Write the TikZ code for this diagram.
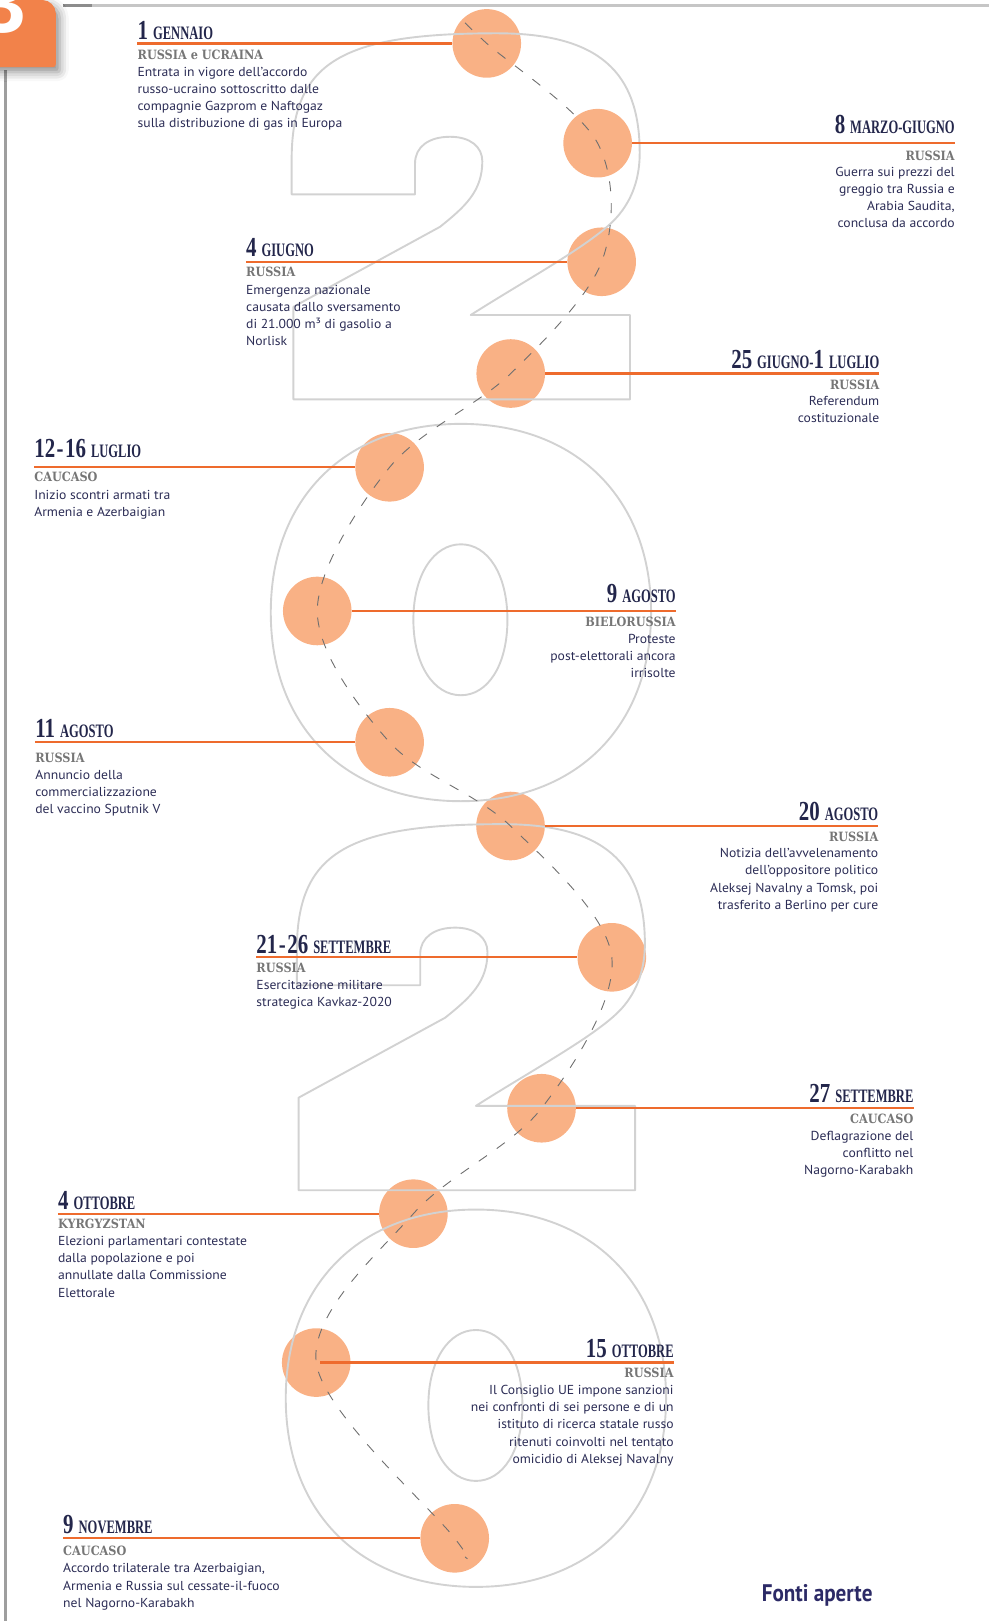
\documentclass[tikz,border=0pt]{standalone}
\usepackage{fontspec}
\setmainfont{PT Sans}[FakeStretch=1.05]
\newfontfamily\titlefont[FakeStretch=0.66]{Liberation Serif}
\newfontfamily\numfont[FakeStretch=0.76]{Liberation Serif}
\newfontfamily\regionfont[FakeStretch=0.88]{DejaVu Serif}
\newfontfamily\sourcefont[FakeStretch=0.88]{PT Sans}
\newfontfamily\tabfont{Liberation Sans}
\usetikzlibrary{shadows.blur}

\definecolor{tabor}{HTML}{F2824A}
\definecolor{dotfill}{HTML}{F9B185}
\definecolor{tickor}{HTML}{EE6B2D}
\definecolor{digitgray}{HTML}{D2D2D2}
\definecolor{trailgray}{HTML}{6F6F6F}
\definecolor{navy}{HTML}{23264B}
\definecolor{bodynavy}{HTML}{2B2C55}
\definecolor{regiongray}{HTML}{767676}
\definecolor{framegray}{HTML}{C6C6C6}
\definecolor{framedark}{HTML}{8C8C8C}
\definecolor{srcnavy}{HTML}{2C2A66}

% day numbers and months of the dates
\newcommand\dnum[1]{{\numfont\bfseries\fontsize{27.5}{28}\selectfont#1}}
\newcommand\dmon[1]{{\fontsize{19}{20}\selectfont#1}}
\newcommand\dgap{\hspace{5pt}}
\newcommand\drange[2]{\dnum{#1}\hspace{1.5pt}\dnum{-}\hspace{1.5pt}\dnum{#2}}
\newcommand\lines[1]{\begin{tabular}[t]{@{}l@{}}#1\end{tabular}}
\newcommand\rlines[1]{\begin{tabular}[t]{@{}r@{}}#1\end{tabular}}

\tikzset{
  digit/.style={draw=digitgray, line width=1.9pt, line join=round},
  disc/.style={circle, fill=dotfill, minimum size=68.6pt, inner sep=0pt},
  trail/.style={draw=trailgray, line width=0.9pt, dash pattern=on 10pt off 12pt},
  leader/.style={draw=tickor, line width=2.2pt},
  dateline/.style={inner sep=0pt, text=navy, font=\titlefont\bfseries},
  place/.style={inner sep=0pt, text=regiongray, font={\regionfont\bfseries\fontsize{12.8}{14}\selectfont}},
  story/.style={inner sep=0pt, text=bodynavy, font=\fontsize{13}{17.2}\selectfont},
  lft/.style={anchor=base west},
  rgt/.style={anchor=base east},
  numtwo/.pic={
    \draw[digit] (283.9,386.3) -- (609.6,386.3) -- (609.6,304.7) -- (455.5,304.7)
      .. controls (510,270) and (575,235) .. (597,210)
      .. controls (612,193) and (619,172) .. (619,148)
      .. controls (619,70) and (580,32.2) .. (481,32.2)
      .. controls (330,32.2) and (282.2,60) .. (282.2,155)
      -- (282.2,188) -- (401.6,188) -- (401.6,158)
      .. controls (401.6,142) and (415,132.3) .. (435.5,132.3)
      .. controls (455,132.3) and (466.7,142) .. (466.7,156)
      .. controls (466.7,185) and (450,200) .. (425.8,219.4)
      -- (283.9,296.8) -- cycle;
  },
  numzero/.pic={
    \draw[digit] (-184,0) .. controls (-184,-110) and (-112,-182.5) .. (0,-182.5)
      .. controls (112,-182.5) and (184,-110) .. (184,0)
      .. controls (184,110) and (112,182.5) .. (0,182.5)
      .. controls (-112,182.5) and (-184,110) .. (-184,0) -- cycle;
    \draw[digit] (-46,7) .. controls (-46,-37) and (-26,-66) .. (0,-66)
      .. controls (26,-66) and (45,-37) .. (45,7)
      .. controls (45,51) and (26,80) .. (0,80)
      .. controls (-26,80) and (-46,51) .. (-46,7) -- cycle;
  }
}

\begin{document}
\begin{tikzpicture}[x=1.03344pt, y=-1.03380pt]
\useasboundingbox (0,0) rectangle (957,1568);

% frame lines
\draw[framegray, line width=2.5pt] (61,5.3) -- (957,5.3);
\draw[framedark, line width=2.5pt] (61,5.3) -- (89,5.3);
\draw[framegray!80!black, line width=2.5pt] (5.3,68) -- (5.3,1568);

% chapter tab
\fill[tabor, blur shadow={shadow xshift=4pt, shadow yshift=-5pt, shadow blur radius=9pt, shadow opacity=45}]
  (-10,0) -- (41,0) .. controls (48,0) and (54,6) .. (54,13) -- (54,62)
  .. controls (54,64) and (53,65) .. (51,65) -- (-10,65) -- cycle;
\begin{scope}
  \clip (-10,0) -- (41,0) .. controls (48,0) and (54,6) .. (54,13) -- (54,62)
    .. controls (54,64) and (53,65) .. (51,65) -- (-10,65) -- cycle;
  \node[anchor=base west, inner sep=0pt, text=white, font={\tabfont\bfseries\fontsize{84}{84}\selectfont}] (tabnum) at (-20,31) {3};
\end{scope}

% event discs
\node[disc] (c1) at (471,42) {};
\node[disc] (c2) at (578.3,138.5) {};
\node[disc] (c3) at (582.2,253.2) {};
\node[disc] (c4) at (494.2,361.3) {};
\node[disc] (c5) at (377,452) {};
\node[disc] (c6) at (307,591) {};
\node[disc] (c7) at (377,718) {};
\node[disc] (c8) at (494,799) {};
\node[disc] (c9) at (592,926) {};
\node[disc] (c10) at (524,1072) {};
\node[disc] (c11) at (400,1174) {};
\node[disc] (c12) at (306,1318) {};
\node[disc] (c13) at (440,1488) {};

% outlined year 2020
\pic at (0,0) {numtwo};
\pic at (446,592.5) {numzero};
\pic at (5,765) {numtwo};
\pic at (460.5,1352.5) {numzero};

% dashed path through the discs
\coordinate (p0) at (450,22);
\coordinate (p14) at (450,1506);
\draw[trail] plot[smooth, tension=0.55] coordinates {(p0) (c1.center) (c2.center) (c3.center) (c4.center) (c5.center) (c6.center) (c7.center) (c8.center) (c9.center) (c10.center) (c11.center) (c12.center) (c13.center) (p14)};

% leader lines
\coordinate (l1) at (133,42);
\coordinate (l2) at (924,138.5);
\coordinate (l3) at (238,253.2);
\coordinate (l4) at (851,361.3);
\coordinate (l5) at (33,452);
\coordinate (l6) at (654,591);
\coordinate (l7) at (34,718);
\coordinate (l8) at (850,799);
\coordinate (l9) at (248,926);
\coordinate (l10) at (884,1072);
\coordinate (l11) at (56,1174);
\coordinate (l12) at (652,1318);
\coordinate (l13) at (61,1488);
\coordinate (l12s) at (310,1318);
\draw[leader] (l1) -- (l1 -| c1.west);
\draw[leader] (l2 -| c2.east) -- (l2);
\draw[leader] (l3) -- (l3 -| c3.west);
\draw[leader] (l4 -| c4.east) -- (l4);
\draw[leader] (l5) -- (l5 -| c5.west);
\draw[leader] (l6 -| c6.east) -- (l6);
\draw[leader] (l7) -- (l7 -| c7.west);
\draw[leader] (l8 -| c8.east) -- (l8);
\draw[leader] (l9) -- (l9 -| c9.west);
\draw[leader] (l10 -| c10.east) -- (l10);
\draw[leader] (l11) -- (l11 -| c11.west);
\draw[leader] (l12s) -- (l12);
\draw[leader] (l13) -- (l13 -| c13.west);

% 1
\node[dateline, lft] (t1) at (133,38) {\dnum{1}\dgap\dmon{GENNAIO}};
\node[place, lft] (s1) at (133,58) {RUSSIA e UCRAINA};
\node[story, lft] (b1) at (133,73.8) {\lines{Entrata in vigore dell’accordo\\russo-ucraino sottoscritto dalle\\compagnie Gazprom e Naftogaz\\sulla distribuzione di gas in Europa}};
% 2
\node[dateline, rgt] (t2) at (924,129) {\dnum{8}\dgap\dmon{MARZO-GIUGNO}};
\node[place, rgt] (s2) at (924,154.8) {RUSSIA};
\node[story, rgt] (b2) at (924,170.3) {\rlines{Guerra sui prezzi del\\greggio tra Russia e\\Arabia Saudita,\\conclusa da accordo}};
% 3
\node[dateline, lft] (t3) at (238,248.4) {\dnum{4}\dgap\dmon{GIUGNO}};
\node[place, lft] (s3) at (238,267.7) {RUSSIA};
\node[story, lft] (b3) at (238,284.5) {\lines{Emergenza nazionale\\causata dallo sversamento\\di 21.000 m³ di gasolio a\\Norlisk}};
% 4
\node[dateline, rgt] (t4) at (851,356.4) {\dnum{25}\dgap\dmon{GIUGNO-}\dnum{1}\dgap\dmon{LUGLIO}};
\node[place, rgt] (s4) at (851,376.4) {RUSSIA};
\node[story, rgt] (b4) at (851,392) {\rlines{Referendum\\costituzionale}};
% 5
\node[dateline, lft] (t5) at (33,442.5) {\drange{12}{16}\dgap\dmon{LUGLIO}};
\node[place, lft] (s5) at (33,466) {CAUCASO};
\node[story, lft] (b5) at (33,482.9) {\lines{Inizio scontri armati tra\\Armenia e Azerbaigian}};
% 6
\node[dateline, rgt] (t6) at (654,582.9) {\dnum{9}\dgap\dmon{AGOSTO}};
\node[place, rgt] (s6) at (654,605.8) {BIELORUSSIA};
\node[story, rgt] (b6) at (654,622.5) {\rlines{Proteste\\post-elettorali ancora\\irrisolte}};
% 7
\node[dateline, lft] (t7) at (34,713.5) {\dnum{11}\dgap\dmon{AGOSTO}};
\node[place, lft] (s7) at (34,737.7) {RUSSIA};
\node[story, lft] (b7) at (34,753.8) {\lines{Annuncio della\\commercializzazione\\del vaccino Sputnik V}};
% 8
\node[dateline, rgt] (t8) at (850,794.1) {\dnum{20}\dgap\dmon{AGOSTO}};
\node[place, rgt] (s8) at (850,813.5) {RUSSIA};
\node[story, rgt] (b8) at (850,829.6) {\rlines{Notizia dell’avvelenamento\\dell’oppositore politico\\Aleksej Navalny a Tomsk, poi\\trasferito a Berlino per cure}};
% 9
\node[dateline, lft] (t9) at (248,921.9) {\drange{21}{26}\dgap\dmon{SETTEMBRE}};
\node[place, lft] (s9) at (248,940.3) {RUSSIA};
\node[story, lft] (b9) at (248,957) {\lines{Esercitazione militare\\strategica Kavkaz-2020}};
% 10
\node[dateline, rgt] (t10) at (884,1066) {\dnum{27}\dgap\dmon{SETTEMBRE}};
\node[place, rgt] (s10) at (884,1086.5) {CAUCASO};
\node[story, rgt] (b10) at (884,1102.8) {\rlines{Deflagrazione del\\conflitto nel\\Nagorno-Karabakh}};
% 11
\node[dateline, lft] (t11) at (56,1170.2) {\dnum{4}\dgap\dmon{OTTOBRE}};
\node[place, lft] (s11) at (56,1188.6) {KYRGYZSTAN};
\node[story, lft] (b11) at (56,1204.7) {\lines{Elezioni parlamentari contestate\\dalla popolazione e poi\\annullate dalla Commissione\\Elettorale}};
% 12
\node[dateline, rgt] (t12) at (652,1313) {\dnum{15}\dgap\dmon{OTTOBRE}};
\node[place, rgt] (s12) at (652,1332.5) {RUSSIA};
\node[story, rgt] (b12) at (652,1348.8) {\rlines{Il Consiglio UE impone sanzioni\\nei confronti di sei persone e di un\\istituto di ricerca statale russo\\ritenuti coinvolti nel tentato\\omicidio di Aleksej Navalny}};
% 13
\node[dateline, lft] (t13) at (61,1483.1) {\dnum{9}\dgap\dmon{NOVEMBRE}};
\node[place, lft] (s13) at (61,1504.7) {CAUCASO};
\node[story, lft] (b13) at (61,1521.5) {\lines{Accordo trilaterale tra Azerbaigian,\\Armenia e Russia sul cessate-il-fuoco\\nel Nagorno-Karabakh}};

% source
\node[anchor=base west, inner sep=0pt, text=srcnavy, font={\sourcefont\bfseries\fontsize{24}{24}\selectfont}] (src) at (737,1549) {Fonti aperte};
\end{tikzpicture}
\end{document}
